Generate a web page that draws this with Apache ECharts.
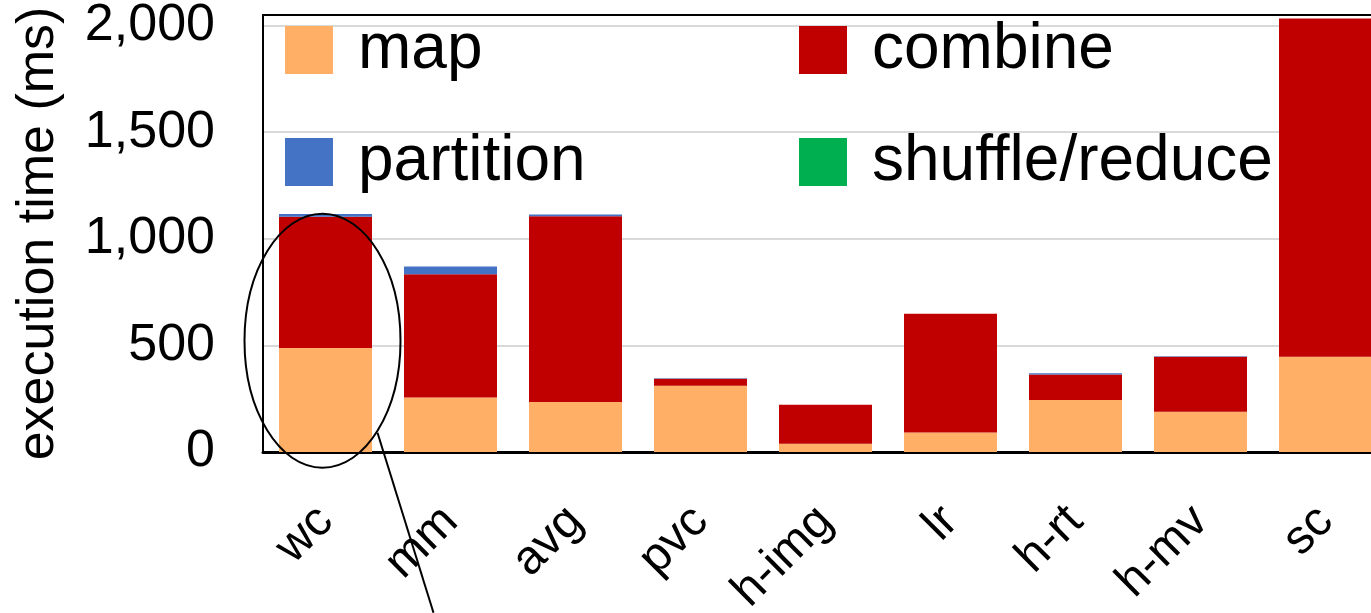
<!DOCTYPE html>
<html>
<head>
<meta charset="utf-8">
<script src="https://cdn.jsdelivr.net/npm/echarts@6/dist/echarts.min.js"></script>
<style>
  html, body { margin: 0; padding: 0; background: #fff; overflow: hidden; }
  /* plot area runs past the right edge of the window, like the cropped original */
  #chart { width: 1388px; height: 613px; }
</style>
</head>
<body>
<div id="chart"></div>
<script>
// benchmarks on the x axis
const categories = ['wc', 'mm', 'avg', 'pvc', 'h-img', 'lr', 'h-rt', 'h-mv', 'sc'];
// execution time per phase (ms)
const mapTime = [488, 256, 235, 311, 39, 92, 244, 189, 447];
const combineTime = [615, 578, 871, 33, 183, 557, 120, 258, 1586];
const partitionTime = [14, 36, 8, 2, 0, 0, 6, 2, 0];
const shuffleTime = [0, 0, 0, 0, 0, 0, 0, 0, 0];
const yTicks = [0, 500, 1000, 1500, 2000];

window.onload = () => {
    let chart = echarts.init(document.getElementById('chart'));
    const font = 'Liberation Sans, Arial, sans-serif';

    const legendCommon = {
        orient: 'vertical',
        top: 13,
        itemWidth: 48,
        itemHeight: 48,
        itemGap: 48,
        icon: 'rect',
        selectedMode: false,
        textStyle: { fontSize: 64, fontFamily: font, color: '#000', padding: [0, 0, 0, 20] }
    };

    let option = {
        animation: false,
        backgroundColor: '#fff',
        legend: [
            Object.assign({ left: 280, data: ['map', 'partition'] }, legendCommon),
            Object.assign({ left: 794, data: ['combine', 'shuffle/reduce'] }, legendCommon)
        ],
        grid: {
            left: 263, right: 0, top: 15, bottom: 161,
            outerBoundsMode: 'none',
            show: true, borderColor: '#000', borderWidth: 2, backgroundColor: 'transparent'
        },
        xAxis: [
            {
                type: 'category',
                data: categories,
                axisTick: { show: false },
                axisLine: { lineStyle: { color: '#000', width: 3 } },
                axisLabel: { rotate: 45, fontSize: 48, fontFamily: font, color: '#000', margin: 62, interval: 0 }
            },
            {
                // top frame line of the plot area
                type: 'category',
                position: 'top',
                data: categories,
                axisTick: { show: false },
                axisLabel: { show: false },
                axisLine: { lineStyle: { color: '#000', width: 2 } }
            }
        ],
        yAxis: {
            type: 'value',
            min: 0,
            max: 2050,
            interval: 500,
            name: 'execution time (ms)',
            nameLocation: 'middle',
            nameGap: 198,
            nameTextStyle: { fontSize: 52, fontFamily: font, color: '#000' },
            axisLine: { show: true, lineStyle: { color: '#000', width: 2 } },
            axisTick: { show: false },
            axisLabel: {
                fontSize: 52, fontFamily: font, color: '#000', margin: 48,
                formatter: v => yTicks.includes(v) ? v.toLocaleString('en-US') : ''
            },
            splitLine: { lineStyle: { color: '#d9d9d9', width: 2 } }
        },
        series: [
            { name: 'map', type: 'bar', stack: 't', barWidth: 93, data: mapTime, itemStyle: { color: '#FFAF66' } },
            { name: 'combine', type: 'bar', stack: 't', data: combineTime, itemStyle: { color: '#C00000' } },
            { name: 'partition', type: 'bar', stack: 't', data: partitionTime, itemStyle: { color: '#4472C4' } },
            { name: 'shuffle/reduce', type: 'bar', stack: 't', data: shuffleTime, itemStyle: { color: '#00B050' } }
        ]
    };
    chart.setOption(option);

    // ellipse annotation around wc, plus the pointer line
    const c = chart.convertToPixel({ xAxisIndex: 0, yAxisIndex: 0 }, ['wc', 522]);
    chart.setOption({
        graphic: [
            {
                type: 'ellipse',
                shape: { cx: c[0] - 3, cy: c[1], rx: 78, ry: 127 },
                style: { fill: 'none', stroke: '#000', lineWidth: 2 },
                z: 100
            },
            {
                type: 'line',
                shape: { x1: c[0] + 52, y1: c[1] + 92, x2: c[0] + 108, y2: c[1] + 272 },
                style: { stroke: '#000', lineWidth: 2 },
                z: 100
            }
        ]
    });
};
</script>
</body>
</html>
